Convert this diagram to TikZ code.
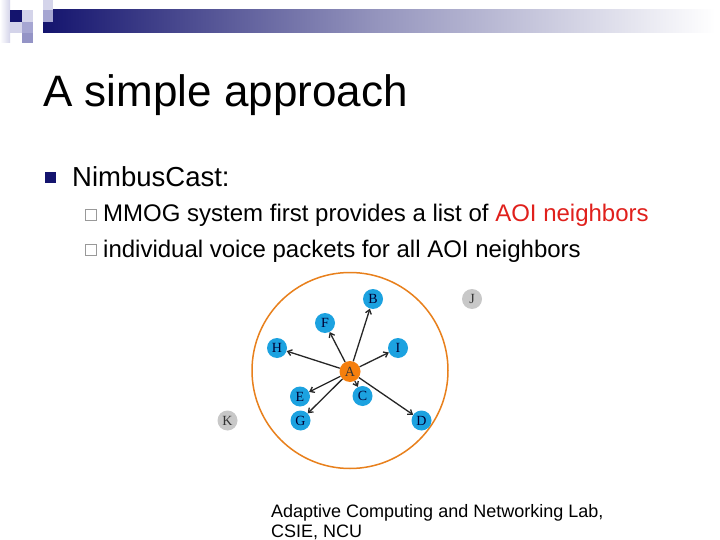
\documentclass[tikz,border=0pt]{standalone}
\usepackage{fontspec}
\setmainfont{Liberation Sans}
\newfontfamily\nodeserif{Liberation Serif}
\usetikzlibrary{arrows.meta}
\definecolor{navy}{HTML}{14146E}
\definecolor{lav1}{HTML}{D4D4EA}
\definecolor{lav2}{HTML}{A6A6D2}
\definecolor{lav3}{HTML}{9494C6}
\definecolor{nodeblue}{HTML}{1CA2E0}
\definecolor{nodegrey}{HTML}{C8C8C8}
\definecolor{ringorange}{HTML}{E8801C}
\definecolor{aorange}{HTML}{F57F0E}
\definecolor{redtext}{HTML}{E0201C}
\tikzset{
  agent/.style={circle, fill=nodeblue, minimum size=20pt, inner sep=0pt, font=\nodeserif\fontsize{14}{14}\selectfont, text=black!80!blue},
  outsider/.style={agent, fill=nodegrey, text=black!80},
  source/.style={agent, fill=aorange, minimum size=21pt, text=black!80},
  voice/.style={line width=1.3pt, black!85, -{Straight Barb[length=4pt,width=6pt]}},
  txt/.style={inner sep=0pt, anchor=base west},
}
\begin{document}
\begin{tikzpicture}[x=1pt,y=-1pt]
\useasboundingbox (0,0) rectangle (720,540);
\fill[white] (0,0) rectangle (720,540);
% header decoration
\shade[left color=white, right color=lav1] (0,0) rectangle (10,43);
\shade[left color=navy, right color=white, middle color=navy!45!white] (43,10) rectangle (715,33);
\fill[navy] (10,10) rectangle (22,22);
\fill[lav1] (22,10) rectangle (33,22);
\fill[lav1] (10,22) rectangle (22,33);
\fill[lav2] (22,22) rectangle (33,33);
\fill[lav3] (22,33) rectangle (33,43);
\fill[lav1] (43,0) rectangle (53,10);
\fill[lav2] (43,10) rectangle (53,22);
% title
\node[txt] (title) at (43,107) {\fontsize{44}{50}\selectfont A simple approach};
% bullets
\fill[navy] (45,172) rectangle (56,183);
\node[txt] (b1) at (72,187) {\fontsize{27.5}{32}\selectfont NimbusCast:};
\draw[black!40, line width=0.8pt] (85,209.5) rectangle (96,220.5);
\node[txt] (b2) at (103,222) {\fontsize{24}{28}\selectfont MMOG system first provides a list of \textcolor{redtext}{AOI neighbors}};
\draw[black!40, line width=0.8pt] (85,244.5) rectangle (96,255.5);
\node[txt] (b3) at (103,257) {\fontsize{24}{28}\selectfont individual voice packets for all AOI neighbors};
% diagram
\draw[ringorange, line width=1.5pt] (350,370.5) circle[radius=98];
\node[source] (A) at (350,371.5) {A};
\node[agent] (B) at (373,299) {B};
\node[agent] (F) at (325,323) {F};
\node[agent] (H) at (277,348) {H};
\node[agent] (I) at (398,348) {I};
\node[agent] (E) at (300,396.5) {E};
\node[agent] (C) at (362.5,396) {C};
\node[agent] (G) at (300.5,420.5) {G};
\node[agent] (D) at (421.5,420.5) {D};
\node[outsider] (J) at (472,299) {J};
\node[outsider] (K) at (227.5,420.5) {K};
\foreach \t in {B,F,H,I,E,C,G,D} \draw[voice] (A) -- (\t);
% footer
\node[txt] (f1) at (271,517) {\fontsize{18}{20}\selectfont Adaptive Computing and Networking Lab,};
\node[txt] (f2) at (271,537) {\fontsize{18}{20}\selectfont CSIE, NCU};
\end{tikzpicture}
\end{document}
